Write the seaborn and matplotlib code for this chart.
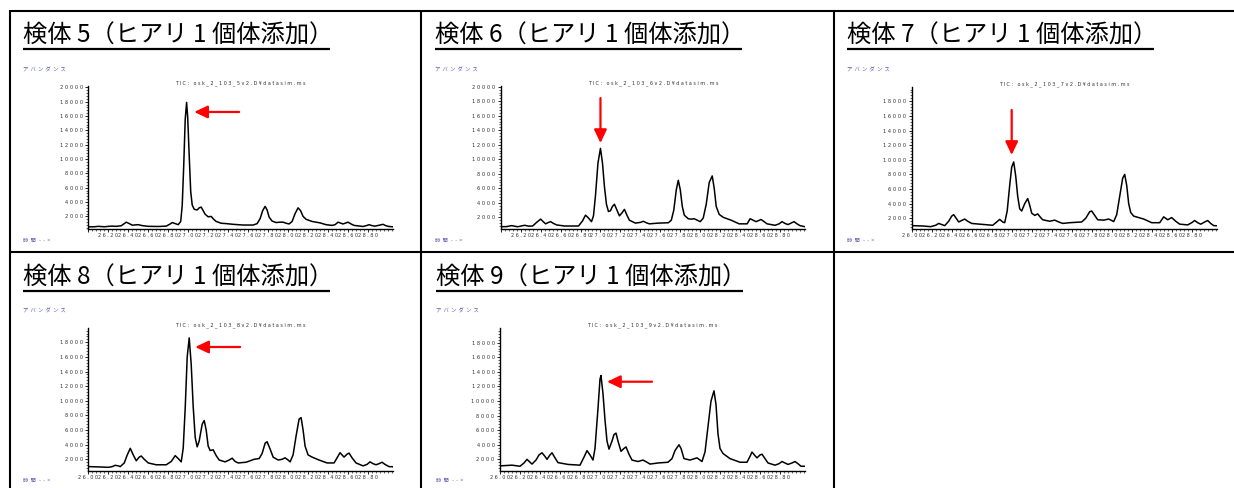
import matplotlib
matplotlib.use("Agg")
import matplotlib.pyplot as plt
from matplotlib.lines import Line2D
from matplotlib.ticker import MultipleLocator, FixedLocator, FixedFormatter
import seaborn as sns

# ---- chromatogram data (retention time [min], abundance) ----
t5 = [26.00, 26.06, 26.10, 26.16, 26.23, 26.28, 26.33, 26.36, 26.38, 26.41, 26.44, 26.47,
      26.50, 26.54, 26.60, 26.70, 26.78, 26.82, 26.84, 26.87, 26.90, 26.925, 26.94, 26.955,
      26.97, 26.984, 26.995, 27.01, 27.025, 27.04, 27.06, 27.09, 27.11, 27.13, 27.15, 27.17,
      27.20, 27.23, 27.255, 27.28, 27.33, 27.38, 27.45, 27.55, 27.65, 27.69, 27.72, 27.745,
      27.77, 27.79, 27.81, 27.84, 27.88, 27.92, 27.95, 27.98, 28.01, 28.04, 28.07, 28.10,
      28.125, 28.15, 28.18, 28.24, 28.32, 28.38, 28.44, 28.47, 28.50, 28.53, 28.55, 28.58,
      28.60, 28.63, 28.66, 28.75, 28.78, 28.81, 28.84, 28.87, 28.92, 28.95, 28.98, 29.01,
      29.05]
a5 = [550, 560, 620, 560, 650, 620, 700, 1000, 1200, 1000, 780, 820,
      850, 720, 620, 600, 650, 950, 1150, 1000, 850, 1300, 3500, 9000,
      15500, 17900, 15800, 10500, 5500, 3600, 3000, 2900, 3200, 3300, 2800, 2300,
      1950, 2000, 1600, 1300, 1050, 1000, 900, 800, 800, 1000, 1700, 2800,
      3400, 2900, 1900, 1350, 1150, 1200, 1200, 1050, 950, 1300, 2400, 3200,
      2800, 2000, 1600, 1300, 1100, 850, 750, 850, 1200, 1050, 950, 1100,
      1200, 950, 750, 600, 700, 850, 720, 650, 800, 900, 700, 600,
      550]

t6 = [26.00, 26.06, 26.11, 26.17, 26.24, 26.28, 26.32, 26.36, 26.40, 26.43, 26.45, 26.48,
      26.50, 26.53, 26.56, 26.64, 26.78, 26.82, 26.85, 26.88, 26.91, 26.93, 26.95, 26.975,
      27.00, 27.02, 27.04, 27.06, 27.08, 27.10, 27.12, 27.14, 27.165, 27.19, 27.215, 27.24,
      27.265, 27.29, 27.35, 27.40, 27.43, 27.46, 27.49, 27.58, 27.68, 27.71, 27.735, 27.76,
      27.78, 27.80, 27.82, 27.84, 27.88, 27.91, 27.94, 27.97, 28.00, 28.03, 28.06, 28.09,
      28.12, 28.14, 28.16, 28.19, 28.23, 28.31, 28.39, 28.47, 28.50, 28.53, 28.56, 28.61,
      28.64, 28.67, 28.75, 28.79, 28.82, 28.85, 28.88, 28.91, 28.94, 28.97, 29.00, 29.05]
a6 = [700, 720, 850, 700, 900, 780, 800, 1300, 1750, 1350, 1100, 1300,
      1400, 1150, 950, 800, 800, 1500, 2300, 1900, 1400, 2200, 5000, 9500,
      11500, 9500, 6200, 3800, 2800, 2900, 3500, 3800, 3000, 2200, 2600, 3100,
      2300, 1600, 1200, 1300, 1450, 1250, 1100, 1200, 1250, 1600, 3000, 5800,
      7100, 5800, 3500, 2300, 1800, 1750, 1800, 1600, 1400, 1900, 3800, 6800,
      7700, 6000, 3500, 2400, 2000, 1600, 1100, 1100, 1800, 1600, 1400, 1700,
      1400, 1100, 900, 1100, 1400, 1150, 1000, 1200, 1400, 1100, 850, 700]

t7 = [26.00, 26.11, 26.19, 26.24, 26.27, 26.30, 26.33, 26.37, 26.40, 26.42, 26.44, 26.47,
      26.50, 26.53, 26.56, 26.60, 26.68, 26.81, 26.85, 26.88, 26.91, 26.93, 26.955, 26.98,
      27.00, 27.02, 27.04, 27.06, 27.08, 27.10, 27.13, 27.16, 27.18, 27.20, 27.23, 27.26,
      27.29, 27.31, 27.38, 27.43, 27.47, 27.51, 27.58, 27.70, 27.74, 27.78, 27.80, 27.83,
      27.86, 27.92, 27.97, 28.00, 28.02, 28.05, 28.08, 28.11, 28.13, 28.15, 28.17, 28.19,
      28.22, 28.32, 28.40, 28.48, 28.52, 28.56, 28.60, 28.64, 28.68, 28.76, 28.80, 28.83,
      28.86, 28.89, 28.93, 28.96, 28.99, 29.02, 29.05]
a7 = [1000, 950, 860, 1050, 1300, 1150, 1000, 1600, 2300, 2500, 2100, 1500,
      1700, 1900, 1600, 1300, 1200, 1050, 1500, 1850, 1500, 1400, 3000, 6500,
      9000, 9700, 7800, 5000, 3300, 3000, 4000, 4700, 3800, 2700, 2400, 2600,
      2100, 1800, 1600, 1750, 1500, 1300, 1400, 1500, 2000, 2900, 3000, 2400,
      1800, 1750, 1900, 1700, 1550, 2500, 5000, 7500, 8000, 6500, 4000, 2800,
      2300, 1900, 1400, 1400, 2200, 1800, 2100, 1600, 1200, 1100, 1400, 1700,
      1400, 1200, 1500, 1700, 1300, 1000, 980]

t8 = [26.00, 26.12, 26.20, 26.24, 26.27, 26.30, 26.32, 26.36, 26.39, 26.42, 26.45, 26.48,
      26.51, 26.53, 26.56, 26.60, 26.68, 26.78, 26.83, 26.87, 26.90, 26.93, 26.95, 26.97,
      26.99, 27.01, 27.03, 27.05, 27.07, 27.09, 27.11, 27.14, 27.16, 27.18, 27.20, 27.22,
      27.25, 27.28, 27.31, 27.37, 27.41, 27.44, 27.47, 27.50, 27.58, 27.66, 27.71, 27.74,
      27.77, 27.79, 27.82, 27.85, 27.90, 27.94, 27.97, 28.00, 28.02, 28.05, 28.08, 28.11,
      28.13, 28.15, 28.17, 28.20, 28.24, 28.31, 28.39, 28.46, 28.49, 28.52, 28.56, 28.59,
      28.61, 28.64, 28.68, 28.75, 28.79, 28.82, 28.85, 28.88, 28.91, 28.94, 28.97, 29.01,
      29.05]
a8 = [1000, 950, 900, 1000, 1180, 1100, 1000, 1500, 2600, 3500, 2600, 1800,
      2300, 2450, 2000, 1500, 1250, 1250, 1700, 2500, 2100, 1650, 3500, 9000,
      16000, 18600, 15000, 9200, 5000, 3700, 4500, 6800, 7300, 6000, 3800, 3200,
      3300, 2500, 1900, 1650, 1900, 2150, 1700, 1500, 1600, 2000, 2100, 2800,
      4200, 4400, 3400, 2300, 1900, 2000, 2200, 1900, 1650, 2600, 5200, 7500,
      7700, 6000, 3800, 2600, 2300, 1900, 1500, 1500, 2200, 2900, 2300, 2700,
      2850, 2200, 1500, 1100, 1300, 1650, 1400, 1250, 1400, 1600, 1300, 1000,
      980]

t9 = [26.00, 26.12, 26.20, 26.24, 26.27, 26.30, 26.32, 26.36, 26.39, 26.42, 26.45, 26.47,
      26.50, 26.52, 26.55, 26.58, 26.68, 26.80, 26.84, 26.87, 26.90, 26.93, 26.95, 26.98,
      27.00, 27.01, 27.03, 27.05, 27.07, 27.09, 27.12, 27.14, 27.16, 27.18, 27.21, 27.24,
      27.26, 27.29, 27.32, 27.38, 27.43, 27.47, 27.50, 27.58, 27.68, 27.72, 27.75, 27.79,
      27.81, 27.84, 27.90, 27.97, 28.00, 28.02, 28.05, 28.08, 28.11, 28.14, 28.16, 28.18,
      28.20, 28.23, 28.30, 28.40, 28.47, 28.50, 28.52, 28.55, 28.57, 28.60, 28.62, 28.65,
      28.68, 28.75, 28.79, 28.82, 28.85, 28.88, 28.92, 28.95, 28.98, 29.01, 29.05]
a9 = [1100, 1200, 1050, 1500, 2000, 1600, 1350, 1900, 2600, 2900, 2400, 2000,
      2600, 2900, 2200, 1550, 1300, 1200, 2300, 3200, 2600, 1900, 3500, 9000,
      13000, 13500, 11000, 7400, 4500, 3400, 4500, 5400, 5600, 4500, 3100, 3500,
      3700, 2700, 1900, 1700, 1900, 1600, 1350, 1500, 1600, 2100, 3200, 4000,
      3500, 2100, 1900, 2200, 1900, 1700, 3000, 6500, 10000, 11400, 9500, 5500,
      3500, 2800, 2100, 1600, 1600, 2400, 3000, 2500, 2200, 2600, 2700, 2100,
      1500, 1200, 1400, 1700, 1500, 1300, 1500, 1700, 1400, 1050, 1050]

titles = ["検体 5（ヒアリ 1 個体添加）", "検体 6（ヒアリ 1 個体添加）", "検体 7（ヒアリ 1 個体添加）",
          "検体 8（ヒアリ 1 個体添加）", "検体 9（ヒアリ 1 個体添加）"]
tic_names = ["TIC: osk_2_103_5v2.D¥datasim.ms", "TIC: osk_2_103_6v2.D¥datasim.ms",
             "TIC: osk_2_103_7v2.D¥datasim.ms", "TIC: osk_2_103_8v2.D¥datasim.ms",
             "TIC: osk_2_103_9v2.D¥datasim.ms"]
y_label = "アバンダンス"
x_label = "時間-->"
time_ticks = [26.0, 26.2, 26.4, 26.6, 26.8, 27.0, 27.2, 27.4, 27.6, 27.8, 28.0, 28.2, 28.4, 28.6, 28.8]
y_ticks_tall = [2000, 4000, 6000, 8000, 10000, 12000, 14000, 16000, 18000, 20000]
y_ticks_short = [2000, 4000, 6000, 8000, 10000, 12000, 14000, 16000, 18000]
# arrows: (tail time, tail abundance, tip time, tip abundance)
arrows = [(27.51, 16560, 27.06, 16560),
          (27.00, 18440, 27.00, 12240),
          (27.00, 16810, 27.00, 10660),
          (27.52, 17357, 27.07, 17357),
          (27.52, 12650, 27.07, 12650)]

series = [(t5, a5), (t6, a6), (t7, a7), (t8, a8), (t9, a9)]

# ---- layout (pixels) ----
W, H = 1234, 488
cells = [
    dict(x0=23, row=0, box=(88.3, 86.0, 393.0, 228.7), ylim=(290, 20180), yt=y_ticks_tall, first=False),
    dict(x0=435, row=0, box=(500.7, 86.0, 805.0, 228.7), ylim=(430, 20100), yt=y_ticks_tall, first=False),
    dict(x0=847, row=0, box=(911.7, 87.0, 1216.7, 228.7), ylim=(580, 19950), yt=y_ticks_short, first=True),
    dict(x0=23, row=1, box=(88.3, 328.3, 393.0, 470.7), ylim=(440, 19915), yt=y_ticks_short, first=True),
    dict(x0=436, row=1, box=(500.0, 328.3, 805.0, 470.7), ylim=(440, 19980), yt=y_ticks_short, first=True),
]
row_y = [dict(title=36.0, uline=49.0, abund=70.0, tic=84.0, time=240.0),
         dict(title=277.5, uline=290.5, abund=311.0, tic=326.0, time=480.7)]

sns.set_theme(style="white")
plt.rcParams["font.family"] = ["DejaVu Sans", "Noto Sans CJK JP"]

fig = plt.figure(figsize=(W / 100, H / 100), dpi=100)
fig.patch.set_facecolor("white")


def fx(x):
    return x / W


def fy(y):
    return 1 - y / H


def hline(x0, x1, y, lw=1.5):
    fig.add_artist(Line2D([fx(x0), fx(x1)], [fy(y), fy(y)], transform=fig.transFigure,
                          color="black", lw=lw, solid_capstyle="butt"))


def vline(x, y0, y1, lw=1.5):
    fig.add_artist(Line2D([fx(x), fx(x)], [fy(y0), fy(y1)], transform=fig.transFigure,
                          color="black", lw=lw, solid_capstyle="butt"))


# table grid
hline(10, W, 11)
hline(10, W, 252)
vline(10, 10, H)
vline(421, 10, H)
vline(834, 10, H)


def spaced(s, gap=" "):
    return gap.join(s)


lab_color = "#5a5ab8"
tick_color = "#333333"

for i, cell in enumerate(cells):
    ry = row_y[cell["row"]]
    x0 = cell["x0"]
    fig.text(fx(x0), fy(ry["title"]), titles[i], fontsize=17.5, va="center", ha="left",
             family=["Noto Sans CJK JP"], color="black")
    hline(x0, x0 + 307, ry["uline"], lw=1.6)
    fig.text(fx(x0), fy(ry["abund"]), spaced(y_label, "  "), fontsize=3.8, va="center", ha="left",
             family=["Noto Sans CJK JP"], color=lab_color)
    fig.text(fx(x0), fy(ry["time"]), "時  間   -  -  >", fontsize=3.8, va="center", ha="left",
             family=["Noto Sans CJK JP", "DejaVu Sans"], color=lab_color)

    l, t, r, b = cell["box"]
    ax = fig.add_axes([fx(l), fy(b), fx(r - l), (b - t) / H])
    ax.set_facecolor("none")
    tt, aa = series[i]
    sns.lineplot(x=tt, y=aa, ax=ax, color="black", linewidth=1.1, sort=False, estimator=None)
    for ln in ax.lines:
        ln.set_solid_joinstyle("round")
    ax.set_xlim(26.0, 29.05)
    ax.set_ylim(*cell["ylim"])
    for side in ("top", "right"):
        ax.spines[side].set_visible(False)
    for side in ("left", "bottom"):
        ax.spines[side].set_color("black")
        ax.spines[side].set_linewidth(1.0)
    ax.set_xlabel("")
    ax.set_ylabel("")

    yt = cell["yt"]
    ax.yaxis.set_major_locator(FixedLocator(yt))
    ax.yaxis.set_major_formatter(FixedFormatter([spaced(str(v)) for v in yt]))
    ax.yaxis.set_minor_locator(MultipleLocator(400))
    ax.xaxis.set_major_locator(FixedLocator(time_ticks))
    xl = [spaced(f"{v:.2f}") for v in time_ticks]
    if not cell["first"]:
        xl[0] = ""
    ax.xaxis.set_major_formatter(FixedFormatter(xl))
    ax.xaxis.set_minor_locator(MultipleLocator(0.04))
    ax.tick_params(axis="y", which="major", direction="out", length=2.2, width=0.7, pad=1.6,
                   labelsize=3.7, labelcolor=tick_color, left=True)
    ax.tick_params(axis="y", which="minor", direction="out", length=1.3, width=0.5, left=True)
    ax.tick_params(axis="x", which="major", direction="out", length=2.2, width=0.7, pad=0.8,
                   labelsize=3.5, labelcolor=tick_color, bottom=True)
    ax.tick_params(axis="x", which="minor", direction="out", length=1.4, width=0.5, bottom=True)

    ax.set_title(spaced(tic_names[i]), fontsize=3.55, color=tick_color, pad=1.0,
                 family=["DejaVu Sans"])

    xt, yt0, xh, yh = arrows[i]
    ax.annotate("", xy=(xh, yh), xytext=(xt, yt0), xycoords="data", textcoords="data",
                annotation_clip=False,
                arrowprops=dict(arrowstyle="-|>,head_length=0.8,head_width=0.38", color="#ff0000",
                                lw=1.6, mutation_scale=10, shrinkA=0, shrinkB=0))

fig.savefig("out.png", dpi=100, facecolor="white")
